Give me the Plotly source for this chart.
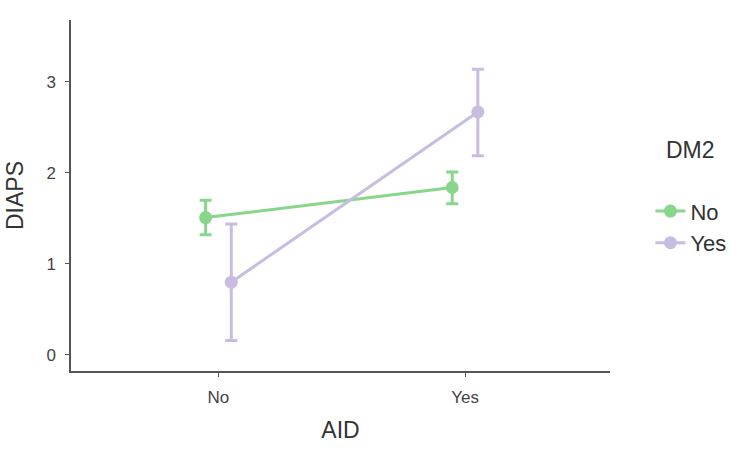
import plotly.graph_objects as go

# Data
aid_levels = ["No", "Yes"]
dm2_levels = ["No", "Yes"]
means_dm2_no = [1.51, 1.84]
lower_dm2_no = [1.32, 1.66]
upper_dm2_no = [1.70, 2.01]
means_dm2_yes = [0.80, 2.67]
lower_dm2_yes = [0.16, 2.19]
upper_dm2_yes = [1.44, 3.14]
y_ticks = [0, 1, 2, 3]

colors = ["#87d68b", "#c8bce0"]
dodge = [-0.052, 0.052]

series = [
    (means_dm2_no, lower_dm2_no, upper_dm2_no),
    (means_dm2_yes, lower_dm2_yes, upper_dm2_yes),
]

fig = go.Figure()
for i, (m, lo, hi) in enumerate(series):
    xs = [k + dodge[i] for k in range(len(aid_levels))]
    fig.add_trace(go.Scatter(
        x=xs, y=m, mode="lines+markers", name=dm2_levels[i],
        line=dict(color=colors[i], width=3),
        marker=dict(color=colors[i], size=13),
        error_y=dict(type="data", symmetric=False,
                     array=[h - v for h, v in zip(hi, m)],
                     arrayminus=[v - l for v, l in zip(m, lo)],
                     color=colors[i], thickness=3, width=6),
    ))

axis_col = "#555555"
fig.update_layout(
    width=750, height=460,
    margin=dict(l=71, r=140, t=20, b=89),
    plot_bgcolor="white", paper_bgcolor="white",
    font=dict(family="Liberation Sans, Arial, sans-serif", color="#444444"),
    showlegend=True,
    legend=dict(x=1.075, y=0.515, xanchor="left", yanchor="top",
                font=dict(size=22, color="#333333"), tracegroupgap=0,
                itemwidth=30, bgcolor="rgba(0,0,0,0)"),
    xaxis=dict(range=[-0.598, 1.588], tickvals=[0, 1], ticktext=aid_levels,
               showgrid=False, zeroline=False, showline=True, linecolor=axis_col,
               linewidth=1.5, ticks="outside", ticklen=4, tickcolor=axis_col,
               ticklabelstandoff=6,
               tickfont=dict(size=17, color="#444444"),
               title=dict(text="AID", font=dict(size=23, color="#333333"), standoff=16)),
    yaxis=dict(range=[-0.176, 3.68], tickvals=y_ticks,
               showgrid=False, zeroline=False, showline=True, linecolor=axis_col,
               linewidth=1.5, ticks="outside", ticklen=4, tickcolor=axis_col,
               ticklabelstandoff=6,
               tickfont=dict(size=17, color="#444444"),
               title=dict(text="DIAPS", font=dict(size=23, color="#333333"), standoff=16)),
    annotations=[dict(text="DM2", xref="paper", yref="paper", x=(690 - 71) / 539, y=(371 - 150) / 351,
                      xanchor="center", yanchor="middle", showarrow=False,
                      font=dict(size=23, color="#333333"))],
)

fig.write_html("out.html")
